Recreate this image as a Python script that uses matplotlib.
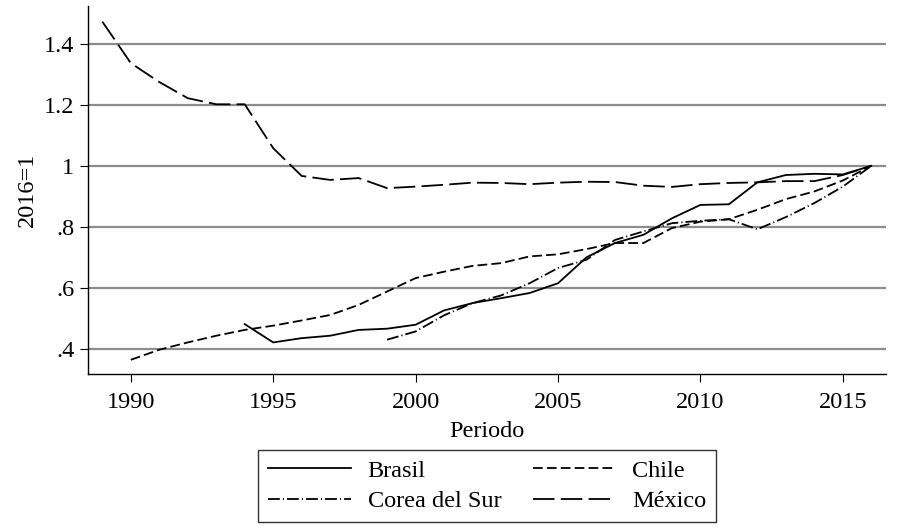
import matplotlib.pyplot as plt
import numpy as np

plt.rcParams['font.family'] = ['Liberation Serif', 'DejaVu Serif']
plt.rcParams['lines.scale_dashes'] = False

# values (2016 = 1)
yrs_brasil = list(range(1994, 2017))
brasil = [.481, .421, .435, .443, .462, .466, .479, .526, .55, .566, .583,
          .615, .70, .747, .774, .828, .872, .874, .946, .97, .974, .972, 1.0]

yrs_chile = list(range(1990, 2017))
chile = [.364, .397, .421, .443, .462, .476, .493, .511, .544, .588, .632,
         .653, .672, .681, .703, .710, .727, .747, .747, .796, .817, .825,
         .856, .891, .916, .952, 1.0]

yrs_corea = list(range(1999, 2017))
corea = [.43, .457, .51, .55, .575, .615, .665, .692, .757, .785, .812,
         .82, .825, .792, .832, .878, .932, 1.0]

yrs_mexico = list(range(1989, 2017))
mexico = [1.473, 1.337, 1.275, 1.222, 1.202, 1.202, 1.058, .967, .954, .96,
          .927, .932, .938, .945, .944, .94, .945, .948, .947, .935, .931,
          .94, .944, .946, .95, .95, .97, 1.0]

yticks = [.4, .6, .8, 1, 1.2, 1.4]
ytick_labels = [".4", ".6", ".8", "1", "1.2", "1.4"]
xticks = [1990, 1995, 2000, 2005, 2010, 2015]

fs = 17.5
fig = plt.figure(figsize=(8.99, 5.28), dpi=100)
ax = fig.add_axes([0.098, 0.292, 0.887, 0.697])

for v in yticks:
    ax.axhline(v, color="#8c8c8c", lw=1.6, zorder=1)

l1, = ax.plot(yrs_brasil, brasil, color="black", lw=1.3, label="Brasil")
l2, = ax.plot(yrs_chile, chile, color="black", lw=1.3, dashes=(7, 3), label="Chile")
l3, = ax.plot(yrs_corea, corea, color="black", lw=1.3, dashes=(8.5, 2.2, 0.8, 2.2),
              label="Corea del Sur")
l4, = ax.plot(yrs_mexico, mexico, color="black", lw=1.3, dashes=(15.5, 4.5),
              label="México")

ax.set_xlim(1988.5, 2016.5)
ax.set_ylim(0.318, 1.525)
ax.set_yticks(yticks)
ax.set_yticklabels(ytick_labels)
ax.set_xticks(xticks)
ax.tick_params(axis="x", labelsize=fs, length=6, width=0.8, color="black", pad=7)
ax.tick_params(axis="y", labelsize=fs, length=6, width=0.8, color="black", pad=4)
ax.spines["top"].set_visible(False)
ax.spines["right"].set_visible(False)
ax.spines["left"].set_linewidth(1.0)
ax.spines["bottom"].set_linewidth(1.0)
ax.set_xlabel("Periodo", fontsize=fs, labelpad=6)
ax.set_ylabel("2016=1", fontsize=fs, labelpad=4)

# row-wise order like the original: Brasil, Chile / Corea del Sur, México
leg = fig.legend([l1, l3, l2, l4], ["Brasil", "Corea del Sur", "Chile", "México"],
                 loc="center", bbox_to_anchor=(0.542, 0.080), ncol=2,
                 fontsize=fs, handlelength=3.4, handletextpad=0.7,
                 columnspacing=1.3, frameon=True, fancybox=False,
                 borderpad=0.4, labelspacing=0.35, borderaxespad=0)
leg.get_frame().set_edgecolor("black")
leg.get_frame().set_linewidth(1.0)

fig.savefig("out.png", dpi=100)
